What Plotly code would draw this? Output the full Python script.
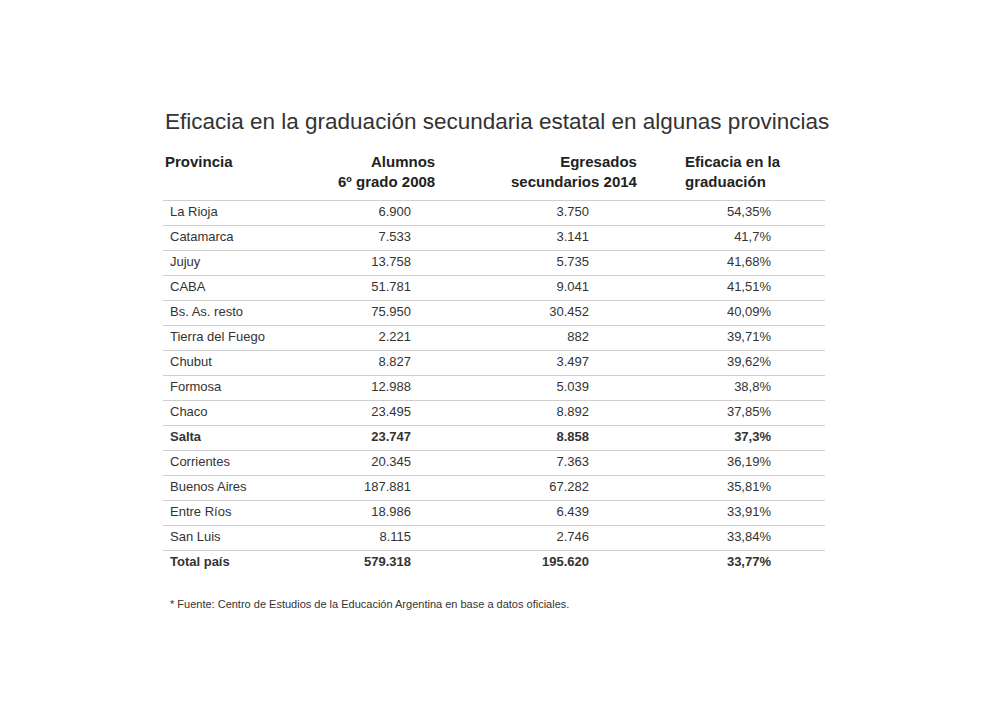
import plotly.graph_objects as go

provincias = ["La Rioja","Catamarca","Jujuy","CABA","Bs. As. resto","Tierra del Fuego","Chubut",
              "Formosa","Chaco","Salta","Corrientes","Buenos Aires","Entre Ríos","San Luis","Total país"]
alumnos = ["6.900","7.533","13.758","51.781","75.950","2.221","8.827","12.988","23.495","23.747",
           "20.345","187.881","18.986","8.115","579.318"]
egresados = ["3.750","3.141","5.735","9.041","30.452","882","3.497","5.039","8.892","8.858",
             "7.363","67.282","6.439","2.746","195.620"]
eficacia = ["54,35%","41,7%","41,68%","41,51%","40,09%","39,71%","39,62%","38,8%","37,85%","37,3%",
            "36,19%","35,81%","33,91%","33,84%","33,77%"]
bold_rows = {"Salta", "Total país"}

n = len(provincias)
rows = list(range(n))
def fmt(vals):
    return [f"<b>{v}</b>" if provincias[i] in bold_rows else v for i, v in enumerate(vals)]

OX, OY = 8, 8  # page body margin offset
font = dict(family="Liberation Sans, Arial", size=13, color="#333")
fig = go.Figure()

lx, ly = [], []
for i in range(n):
    lx += [163 - OX, 825 - OX, None]
    ly += [i - 0.5, i - 0.5, None]
fig.add_trace(go.Scatter(x=lx, y=ly, mode="lines", line=dict(color="#cfcfcf", width=1),
                         hoverinfo="skip", showlegend=False))

cols = [(170, provincias, "middle right"), (411, alumnos, "middle left"),
        (589, egresados, "middle left"), (771, eficacia, "middle left")]
for x, vals, pos in cols:
    fig.add_trace(go.Scatter(x=[x - OX]*n, y=rows, mode="text", text=fmt(vals), textposition=pos,
                             textfont=font, hoverinfo="skip", showlegend=False))

top = 213 - OY
fig.update_layout(
    width=1000, height=719, margin=dict(l=0, r=0, t=0, b=0),
    paper_bgcolor="white", plot_bgcolor="white",
    xaxis=dict(range=[0, 1000], visible=False),
    yaxis=dict(range=[(719-top)/25, -top/25], visible=False),
)

hfont = dict(family="Liberation Sans, Arial", size=15, color="#222")
def ann(x, y, text, anchor, f, align="left"):
    fig.add_annotation(x=x - OX, y=1-(y - OY)/719, xref="x", yref="paper", text=text, showarrow=False,
                       xanchor=anchor, yanchor="middle", font=f, align=align)

ann(163, 122, "Eficacia en la graduación secundaria estatal en algunas provincias", "left",
    dict(family="Liberation Sans, Arial", size=22.5, color="#333"))
ann(163, 162, "<b>Provincia</b>", "left", hfont)
ann(437, 172, "<b>Alumnos<br>6º grado 2008</b>", "right", hfont, "right")
ann(640, 172, "<b>Egresados<br>secundarios 2014</b>", "right", hfont, "right")
ann(683, 172, "<b>Eficacia en la<br>graduación</b>", "left", hfont, "left")
ann(168, 604, "* Fuente: Centro de Estudios de la Educación Argentina en base a datos oficiales.", "left",
    dict(family="Liberation Sans, Arial", size=11, color="#333"))

fig.write_html("out.html")
